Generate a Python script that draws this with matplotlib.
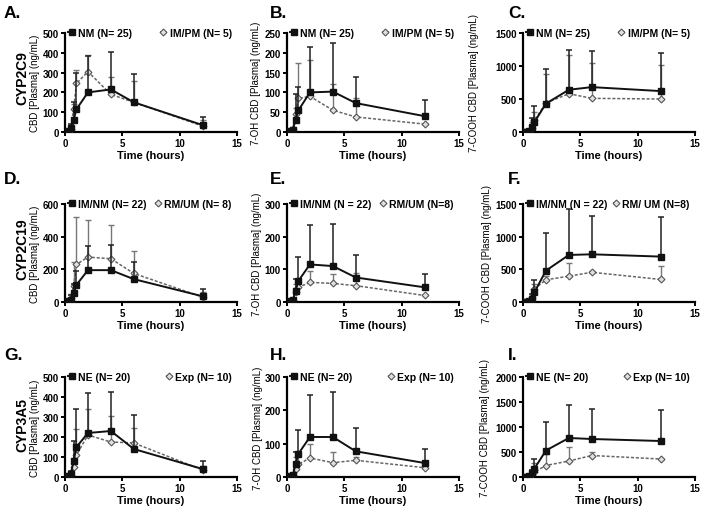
import matplotlib
matplotlib.use('Agg')
import matplotlib.pyplot as plt
import numpy as np

plt.rcParams['font.family'] = ['Liberation Sans', 'DejaVu Sans']

nan = np.nan
times = [0, 0.25, 0.5, 0.75, 1, 2, 4, 6, 12]

# means and upper error-bar tops
A_nm = [0, 5, 20, 60, 115, 200, 215, 150, 35]
A_nm_top = [nan, nan, 40, 150, 300, 385, 405, 295, 75]
A_pm = [0, 5, 15, 115, 245, 305, 190, 150, 30]
A_pm_top = [nan, nan, 30, 140, 315, 390, 280, 260, 60]

B_nm = [0, 2, 5, 30, 55, 100, 102, 73, 40]
B_nm_top = [nan, nan, 10, 95, 113, 215, 225, 140, 80]
B_pm = [0, 2, 8, 45, 85, 90, 55, 38, 20]
B_pm_top = [nan, nan, 12, 60, 175, 183, 122, 85, nan]

C_nm = [0, 5, 20, 80, 150, 430, 640, 680, 620]
C_nm_top = [nan, nan, 50, 210, 390, 950, 1250, 1230, 1190]
C_pm = [0, 5, 20, 60, 180, 440, 580, 510, 500]
C_pm_top = [nan, nan, 40, 150, 300, 880, 1160, 1040, 1020]

D_nm = [0, 5, 15, 55, 105, 195, 195, 140, 35]
D_nm_top = [nan, nan, 40, 110, 190, 340, 350, 245, 80]
D_um = [0, 8, 25, 100, 230, 275, 265, 175, 30]
D_um_top = [nan, nan, 50, 245, 520, 505, 470, 315, 60]

E_nm = [0, 2, 5, 35, 65, 115, 110, 75, 45]
E_nm_top = [nan, nan, 12, 70, 138, 237, 240, 145, 85]
E_um = [0, 2, 5, 30, 45, 60, 57, 50, 20]
E_um_top = [nan, nan, 10, 55, 70, 95, 85, 90, nan]

F_nm = [0, 5, 10, 50, 150, 480, 720, 730, 695]
F_nm_top = [nan, nan, 30, 120, 340, 1050, 1420, 1320, 1300]
F_um = [0, 5, 10, 60, 200, 340, 395, 455, 345]
F_um_top = [nan, nan, 30, 100, 270, 400, 590, 470, 555]

G_ne = [0, 5, 15, 80, 150, 220, 230, 140, 40]
G_ne_top = [nan, nan, 30, 180, 340, 420, 425, 310, 80]
G_exp = [0, 5, 10, 50, 110, 210, 175, 170, 35]
G_exp_top = [nan, nan, 20, 95, 240, 340, 305, 245, 55]

H_ne = [0, 2, 5, 38, 70, 120, 120, 77, 42]
H_ne_top = [nan, nan, 12, 75, 140, 245, 255, 148, 85]
H_exp = [0, 2, 5, 25, 38, 57, 43, 50, 28]
H_exp_top = [nan, nan, 10, 60, 65, 100, 75, 60, 35]

I_ne = [0, 5, 20, 80, 170, 530, 780, 760, 720]
I_ne_top = [nan, nan, 50, 150, 370, 1110, 1440, 1360, 1340]
I_exp = [0, 5, 10, 60, 100, 230, 320, 430, 360]
I_exp_top = [nan, nan, 30, 120, 290, 460, 610, 500, nan]

ylabels = ['CBD [Plasma] (ng/mL)', '7-OH CBD [Plasma] (ng/mL)', '7-COOH CBD [Plasma] (ng/mL)']
row_labels = ['CYP2C9', 'CYP2C19', 'CYP3A5']
panel_letters = ['A.', 'B.', 'C.', 'D.', 'E.', 'F.', 'G.', 'H.', 'I.']
legend_labels = [
    ('NM (N= 25)', 'IM/PM (N= 5)'), ('NM (N= 25)', 'IM/PM (N= 5)'), ('NM (N= 25)', 'IM/PM (N= 5)'),
    ('IM/NM (N= 22)', 'RM/UM (N= 8)'), ('IM/NM (N = 22)', 'RM/UM (N=8)'), ('IM/NM (N = 22)', 'RM/ UM (N=8)'),
    ('NE (N= 20)', 'Exp (N= 10)'), ('NE (N= 20)', 'Exp (N= 10)'), ('NE (N= 20)', 'Exp (N= 10)'),
]
yticks = [
    np.arange(0, 501, 100), np.arange(0, 251, 50), np.arange(0, 1501, 500),
    np.arange(0, 601, 200), np.arange(0, 301, 100), np.arange(0, 1501, 500),
    np.arange(0, 501, 100), np.arange(0, 301, 100), np.arange(0, 2001, 500),
]
panels = [
    (A_nm, A_nm_top, A_pm, A_pm_top), (B_nm, B_nm_top, B_pm, B_pm_top), (C_nm, C_nm_top, C_pm, C_pm_top),
    (D_nm, D_nm_top, D_um, D_um_top), (E_nm, E_nm_top, E_um, E_um_top), (F_nm, F_nm_top, F_um, F_um_top),
    (G_ne, G_ne_top, G_exp, G_exp_top), (H_ne, H_ne_top, H_exp, H_exp_top), (I_ne, I_ne_top, I_exp, I_exp_top),
]

W, H = 709, 510
fig = plt.figure(figsize=(W / 100, H / 100), dpi=100)

col_left = [65, 287, 523]
ax_w = 172
row_top = [34, 205, 378]
row_bot = [133, 303, 478]
# y-label x position (axes fraction) per panel
ylab_x = [-0.145, -0.15, -0.253, -0.145, -0.145, -0.18, -0.145, -0.14, -0.19]

for i in range(9):
    r, c = divmod(i, 3)
    ax = fig.add_axes([col_left[c] / W, 1 - row_bot[r] / H, ax_w / W, (row_bot[r] - row_top[r]) / H])
    s_mean, s_top, d_mean, d_top = panels[i]
    s_mean, s_top = np.array(s_mean, float), np.array(s_top, float)
    d_mean, d_top = np.array(d_mean, float), np.array(d_top, float)

    # dashed series first (behind)
    ax.errorbar(times, d_mean, yerr=[np.zeros(9), d_top - d_mean], fmt='none',
                ecolor='#777777', elinewidth=1.0, capsize=2.5, capthick=1.0, zorder=2)
    ax.plot(times, d_mean, color='#666666', linestyle=(0, (2, 1.2)), linewidth=1.1,
            marker='D', markersize=3.5, markerfacecolor='#e0e0e0', markeredgecolor='#555555',
            markeredgewidth=0.8, zorder=3, label=legend_labels[i][1])
    ax.errorbar(times, s_mean, yerr=[np.zeros(9), s_top - s_mean], fmt='none',
                ecolor='#222222', elinewidth=1.1, capsize=2.5, capthick=1.1, zorder=4)
    ax.plot(times, s_mean, color='#111111', linestyle='-', linewidth=1.4,
            marker='s', markersize=5, markerfacecolor='#111111', markeredgecolor='#111111',
            zorder=5, label=legend_labels[i][0])

    ax.set_xlim(0, 15)
    ax.set_xticks([0, 5, 10, 15])
    ax.set_ylim(0, yticks[i][-1])
    ax.set_yticks(yticks[i])
    for sp in ['top', 'right']:
        ax.spines[sp].set_visible(False)
    for sp in ['left', 'bottom']:
        ax.spines[sp].set_linewidth(1.6)
    ax.tick_params(axis='both', width=1.4, length=3, pad=1.5, labelsize=7)
    for lab in ax.get_xticklabels() + ax.get_yticklabels():
        lab.set_fontweight('bold')
    ax.set_xlabel('Time (hours)', fontsize=8, fontweight='bold', labelpad=1)
    ax.set_ylabel(ylabels[c], fontsize=7)
    ax.yaxis.set_label_coords(ylab_x[i], 0.5)
    ax.patch.set_alpha(0)

    h, l = ax.get_legend_handles_labels()
    leg = ax.legend(h[::-1], l[::-1], ncol=2, loc='center', mode='expand',
                    bbox_to_anchor=(0.02, 0.93, 0.95, 0.14), frameon=False,
                    prop={'size': 7.5, 'weight': 'bold'},
                    handlelength=0.6, handletextpad=0.3, borderaxespad=0, borderpad=0,
                    columnspacing=0.3)
    leg.set_zorder(10)

    # panel letters
    lx = [4, 270, 508][c]
    ly = [6, 172, 348][r]
    fig.text(lx / W, 1 - ly / H, panel_letters[i], fontsize=12.5, fontweight='bold',
             ha='left', va='top')

for r, name in enumerate(row_labels):
    cy = [78, 249, 425][r]
    fig.text(22 / W, 1 - cy / H, name, fontsize=10, fontweight='bold', rotation=90,
             ha='center', va='center')

fig.savefig('out.png', dpi=100)
